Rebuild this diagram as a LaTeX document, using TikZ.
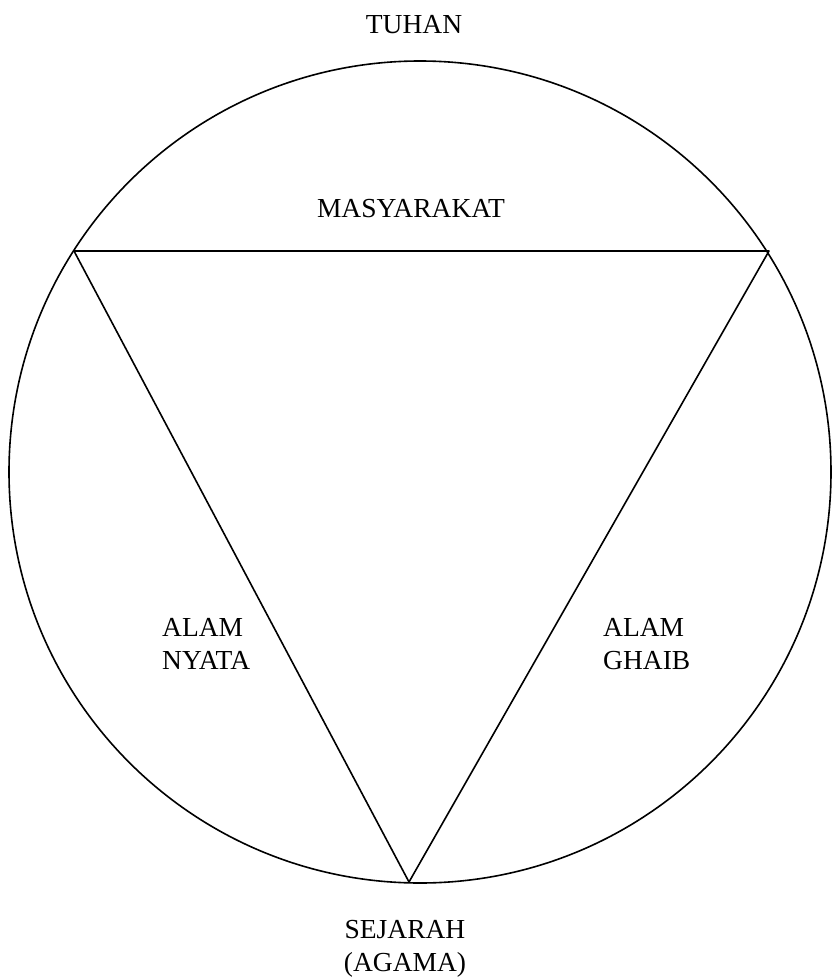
\documentclass[tikz,border=0pt]{standalone}
\usepackage{fontspec}
\setmainfont{Liberation Serif}
\begin{document}
\begin{tikzpicture}[x=1pt,y=-1pt,
  line/.style={line width=1.6pt,line join=round},
  lbl/.style={inner sep=0pt,font=\fontsize{27.5}{33}\selectfont}]
\useasboundingbox (0,0) rectangle (832,977);
\coordinate (c) at (420,472);
\coordinate (tl) at (74,251);
\coordinate (tr) at (769,251);
\coordinate (bt) at (409,882);
\draw[line] (c) circle[radius=411pt];
\draw[line] (tl) -- (tr) -- (bt) -- cycle;
\node[lbl,anchor=base] (tuhan) at (414,33) {TUHAN};
\node[lbl,anchor=base] (masy) at (411,217) {MASYARAKAT};
\node[lbl,anchor=north west,align=left] (nyata) at (162,618) {ALAM\\NYATA};
\node[lbl,anchor=north west,align=left] (ghaib) at (603,618) {ALAM\\GHAIB};
\node[lbl,anchor=north,align=center] (sejarah) at (405,920) {SEJARAH\\(AGAMA)};
\end{tikzpicture}
\end{document}
